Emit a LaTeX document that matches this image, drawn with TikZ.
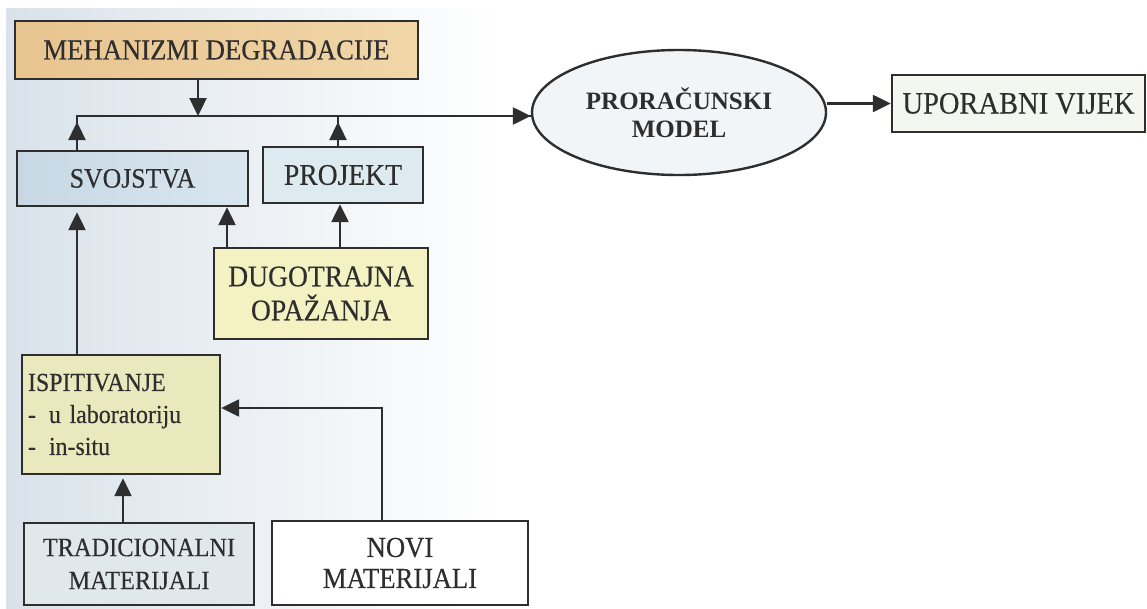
\documentclass[tikz,border=0pt]{standalone}
\usepackage{fontspec}
\setmainfont{Liberation Serif}
\newfontfamily\scan[FakeStretch=0.92,FakeBold=0.3]{Liberation Serif}
\usetikzlibrary{arrows.meta,shapes.geometric}
\definecolor{ink}{HTML}{2E2E2E}
\definecolor{mechc}{HTML}{E8C48F}
\definecolor{mechr}{HTML}{F1D6A8}
\definecolor{svoc}{HTML}{C7D8E4}
\definecolor{svor}{HTML}{D9E6EF}
\definecolor{projc}{HTML}{DDEBF1}
\definecolor{dugoc}{HTML}{F4F2C2}
\definecolor{ispc}{HTML}{E9E9BD}
\definecolor{tradc}{HTML}{E1E8EC}
\definecolor{ellc}{HTML}{F2F5F7}
\definecolor{upoc}{HTML}{F4F7F0}
\definecolor{bgc}{HTML}{D9E2EA}
\tikzset{
  boxn/.style={draw=ink, line width=2.4pt, text=ink, inner sep=0pt, align=center},
  arr/.style={draw=ink, line width=2.4pt, -{Triangle[length=18pt,width=17pt]}},
  ln/.style={draw=ink, line width=2.4pt},
}
\begin{document}
\begin{tikzpicture}[x=1pt,y=-1pt]
\useasboundingbox (0,0) rectangle (1147,608);
\fill[white] (0,0) rectangle (1147,608);
\shade[left color=bgc, right color=white] (6,8) rectangle (500,608);

\node[boxn, left color=mechc, right color=mechr, minimum width=403pt, minimum height=58pt, font=\scan\fontsize{29}{34}\selectfont] (mech) at (216.5,50) {MEHANIZMI DEGRADACIJE};
\node[boxn, left color=svoc, right color=svor, minimum width=231pt, minimum height=55pt, font=\scan\fontsize{28}{34}\selectfont] (svo) at (132.5,178.5) {SVOJSTVA};
\node[boxn, fill=projc, minimum width=160pt, minimum height=56pt, font=\scan\fontsize{30}{34}\selectfont] (proj) at (343,175) {PROJEKT};
\node[boxn, fill=dugoc, minimum width=214pt, minimum height=91pt, font=\scan\fontsize{30}{34}\selectfont] (dugo) at (321,293.5) {DUGOTRAJNA\\OPAŽANJA};
\node[boxn, fill=ispc, minimum width=198pt, minimum height=119pt, font=\scan\fontsize{26}{32}\selectfont, align=left, text width=186pt] (isp) at (121,414.5) {ISPITIVANJE\\- \,u laboratoriju\\- \,in-situ};
\node[boxn, fill=tradc, minimum width=230pt, minimum height=82pt, font=\scan\fontsize{26.5}{33}\selectfont] (trad) at (139,564) {TRADICIONALNI\\MATERIJALI};
\node[boxn, fill=white, minimum width=256pt, minimum height=84pt, font=\scan\fontsize{29}{31}\selectfont] (novi) at (400,563) {NOVI\\MATERIJALI};
\node[draw=ink, line width=2.4pt, ellipse, fill=ellc, text=ink, minimum width=294pt, minimum height=125pt, inner sep=0pt, align=center, font=\bfseries\fontsize{25}{28}\selectfont] (ell) at (679,112.5) {PRORAČUNSKI\\MODEL};
\node[boxn, fill=upoc, minimum width=253pt, minimum height=57pt, font=\scan\fontsize{31}{34}\selectfont] (upo) at (1018.5,103.5) {UPORABNI VIJEK};

\coordinate (jl) at (77,116);
\coordinate (jm) at (198,116);
\coordinate (jp) at (338,116);
\coordinate (nv) at (382,408);

\draw[ln] (svo.north -| jl) -- (jl) -- (ell.west |- jl);
\draw[arr] (jl) -- (ell.west |- jl);
\draw[arr] (svo.north -| jl) -- ([yshift=-6pt]jl);
\draw[arr] (mech.south -| jm) -- (jm);
\draw[ln] (proj.north -| jp) -- (jp);
\draw[arr] (proj.north -| jp) -- ([yshift=-6pt]jp);
\draw[arr] (ell.east |- upo.west) -- (upo.west);
\draw[arr] (dugo.north -| 227,0) -- (svo.south -| 227,0);
\draw[arr] (dugo.north -| 340,0) -- (proj.south -| 340,0);
\draw[arr, shorten >=5pt] (isp.north -| jl) -- (svo.south -| jl);
\draw[arr, shorten >=3pt] (trad.north -| 123,0) -- (isp.south -| 123,0);
\draw[arr] (novi.north -| nv) -- (nv) -- (isp.east |- nv);
\end{tikzpicture}
\end{document}
